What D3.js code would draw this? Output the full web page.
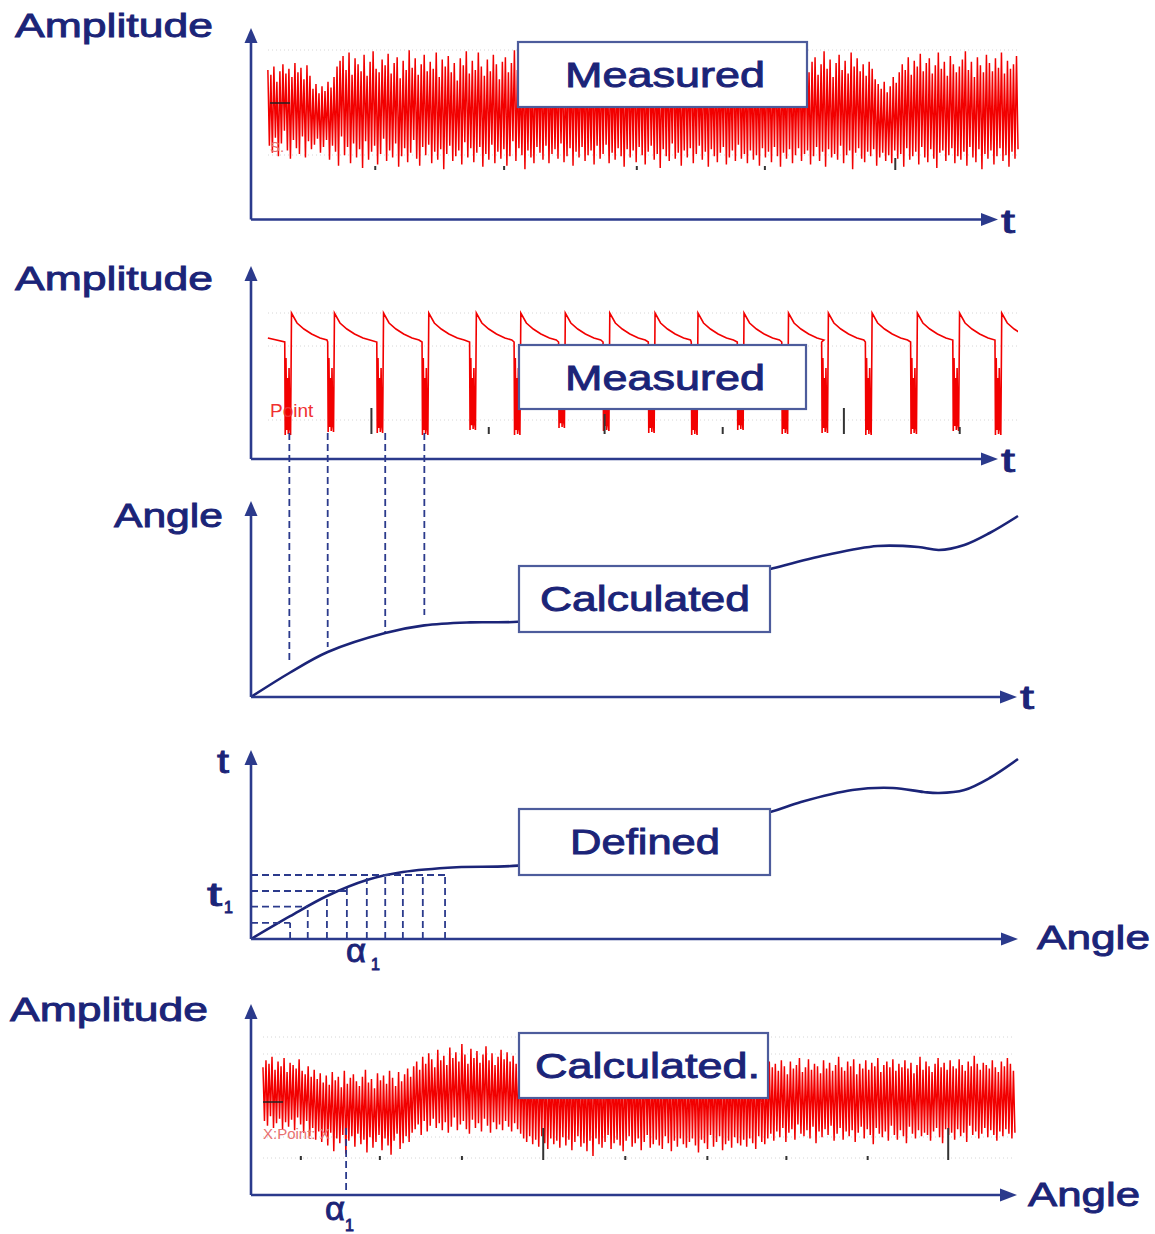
<!DOCTYPE html>
<html><head><meta charset="utf-8">
<script src="https://cdn.jsdelivr.net/npm/d3@7"></script>
<style>body{margin:0;background:#fff}svg{display:block}text{font-family:"Liberation Sans",Arial,sans-serif}</style>
</head><body><svg id="c" width="1155" height="1234"></svg>
<script>
// ---------- DATA ----------
const yLabels = ["Amplitude", "Amplitude", "Angle", "t", "Amplitude"];
const xLabels = ["t", "t", "t", "Angle", "Angle"];
const boxLabels = ["Measured", "Measured", "Calculated", "Defined", "Calculated."];

// Panel 1: measured vibration signal (time domain), samples
const measuredNoise = [
 30,-35,26,-41,33,-28,20,-44,29,-33,35,-22,27,-39,31,-46,24,-30,36,-37,
 28,-42,32,-27,22,-45,34,-31,25,-38,14,-34,18,-29,10,-41,16,-36,12,-30,
 20,-47,15,-35,24,-40,33,-52,38,-27,42,-43,30,-36,45,-50,26,-33,40,-45,
 35,-38,29,-54,43,-31,25,-47,37,-40,46,-35,31,-51,28,-42,39,-29,34,-48,
 44,-39,27,-45,36,-33,41,-53,23,-44,38,-37,30,-49,47,-41,32,-30,40,-46,
 26,-52,35,-36,43,-43,29,-34,37,-50,31,-40,45,-47,24,-38,39,-55,33,-42,
 42,-35,28,-48,36,-44,21,-39,40,-51,34,-32,46,-45,27,-37,38,-49,30,-41,
 45,-36,33,-53,25,-42,39,-47,29,-34,43,-50,35,-40,22,-46,37,-38,41,-52,
 28,-44,36,-31,47,-48,30,-37,24,-43,40,-55,33,-39,42,-45,27,-50,35,-36,
 32,-41,38,-47,26,-35,41,-50,30,-42,36,-38,28,-46,40,-33,34,-49,25,-44,
 39,-37,31,-52,43,-40,27,-45,35,-36,30,-48,37,-43,24,-39,41,-51,33,-35,
 28,-46,36,-42,40,-34,25,-50,38,-41,32,-47,29,-37,42,-44,35,-53,26,-38,
 37,-45,30,-39,41,-49,27,-36,34,-43,39,-51,31,-40,44,-35,28,-47,36,-42,
 33,-54,25,-38,40,-44,36,-48,29,-33,42,-46,30,-41,35,-52,27,-39,38,-45,
 31,-37,43,-50,28,-42,36,-35,24,-47,39,-40,32,-53,41,-38,26,-44,37,-49,
 34,-41,29,-36,40,-51,33,-45,27,-39,44,-48,30,-34,38,-46,25,-42,35,-50,
 42,-39,28,-47,36,-43,31,-52,39,-37,26,-45,41,-40,33,-49,29,-36,37,-44,
 30,-53,38,-41,27,-46,43,-38,32,-50,35,-43,29,-37,40,-48,34,-42,45,-39,
 28,-51,37,-44,41,-36,26,-48,35,-40,46,-53,31,-38,39,-45,24,-42,36,-47,
 43,-35,30,-50,38,-43,27,-39,45,-55,33,-41,40,-37,29,-46,35,-49,25,-40,
 37,-44,31,-38,22,-52,18,-45,14,-41,20,-48,11,-43,16,-50,24,-39,19,-46,
 28,-42,35,-53,30,-37,41,-47,26,-44,38,-40,33,-51,44,-36,29,-45,36,-49,
 40,-38,27,-46,34,-54,45,-41,31,-39,37,-48,25,-43,42,-37,35,-50,28,-44,
 33,-47,39,-40,46,-52,30,-36,37,-45,24,-49,41,-38,34,-55,28,-42,43,-46,
 36,-39,29,-51,40,-44,32,-37,45,-48,27,-43,38,-53,31,-40,35,-46,42,-38
];
// Panel 5: order-domain (resampled) signal, samples
const calculatedNoise = [
 28,-18,34,-22,31,-14,37,-24,26,-20,33,-16,29,-25,36,-19,24,-23,32,-17,
 30,-26,27,-15,35,-21,25,-28,22,-18,29,-31,20,-24,26,-34,18,-27,23,-36,
 15,-30,21,-39,13,-28,24,-44,17,-33,20,-37,11,-30,25,-46,14,-35,19,-31,
 22,-40,16,-29,12,-38,20,-34,26,-45,15,-32,18,-41,10,-36,23,-30,17,-43,
 21,-33,14,-39,25,-47,19,-35,12,-29,24,-42,16,-37,22,-31,27,-36,20,-28,
 29,-25,33,-21,26,-30,37,-18,31,-27,40,-22,35,-16,28,-24,43,-20,34,-26,
 38,-19,30,-28,45,-23,36,-15,41,-26,33,-21,48,-18,39,-25,31,-29,44,-17,
 36,-24,42,-20,32,-27,39,-16,46,-22,34,-28,40,-19,30,-25,37,-21,43,-26,
 35,-18,41,-23,33,-27,38,-20,31,-25,36,-29,30,-33,34,-36,28,-31,32,-38,
 29,-34,33,-40,27,-31,35,-37,30,-42,26,-33,32,-38,28,-35,34,-41,25,-32,
 31,-39,27,-34,33,-43,29,-36,35,-31,24,-40,30,-37,28,-44,32,-35,26,-48,
 34,-33,28,-38,31,-41,25,-36,33,-30,29,-42,35,-37,27,-34,30,-39,32,-44,
 26,-35,33,-31,29,-40,34,-37,24,-33,31,-43,28,-36,35,-30,27,-41,30,-38,
 33,-34,25,-39,31,-42,28,-31,34,-37,26,-44,32,-35,29,-40,27,-33,35,-38,
 30,-41,24,-36,32,-33,28,-39,35,-45,26,-34,31,-37,29,-42,33,-30,25,-40,
 34,-36,27,-31,30,-43,25,-38,33,-35,29,-41,35,-32,26,-37,31,-39,28,-34,
 32,-40,26,-33,34,-37,29,-42,27,-31,35,-36,30,-38,24,-33,33,-29,28,-35,
 31,-27,25,-32,34,-24,29,-36,22,-28,33,-25,27,-34,30,-21,36,-29,24,-31,
 28,-26,35,-33,26,-23,31,-37,29,-27,23,-32,34,-25,27,-30,32,-22,25,-35,
 30,-29,37,-24,28,-34,25,-27,33,-31,29,-26,35,-36,22,-28,31,-23,27,-33,
 34,-25,26,-30,32,-38,29,-24,36,-29,24,-32,30,-27,33,-35,28,-22,35,-30,
 25,-34,31,-26,28,-31,34,-37,27,-23,32,-29,23,-33,30,-26,37,-31,26,-28,
 33,-30,29,-35,24,-27,31,-24,36,-32,28,-37,32,-25,26,-30,34,-28,29,-34,
 27,-25,35,-31,30,-28,25,-36,33,-22,29,-30,38,-27,31,-33,26,-29,32,-24,
 30,-32,27,-26,34,-30,28,-35,24,-27,33,-31,29,-25,36,-29,31,-33,25,-28
];

// Panel 2: measured pulse signal - pulse times and depths
const spikeTimes = [0.44,1.00,1.64,2.23,2.85,3.43,4.01,4.59,5.18,5.74,6.34,6.92,7.44,8.01,8.60,9.15,9.70];
const spikeMins  = [-97,-94,-95,-97,-92,-97,-90,-93,-95,-97,-92,-96,-95,-97,-96,-93,-97];
// shape of one pulse: time offset, amplitude
const pulseShapeDt = [0, 0.006, 0.016, 0.026, 0.036, 0.046, 0.056, 0.066, 0.076, 0.088, 0.16, 0.25, 0.35, 0.46, 0.55];
const pulseShapeV  = [-4, -95,  -20,   -90,   -40,   -94,   -30,   -88,   -95,   25,    15,   9,    4,    0,    -2];

// Panel 3: calculated angle vs time
const angleT = [0, 0.50, 1.00, 1.75, 2.26, 2.86, 3.48, 4.29, 5.20, 5.98, 6.77, 7.50, 8.17, 8.70, 8.97, 9.30, 9.63, 10.0];
const angleV = [0, 1.20, 2.25, 3.20, 3.58, 3.73, 3.76, 4.15, 4.85, 5.60, 6.40, 7.10, 7.55, 7.50, 7.35, 7.60, 8.20, 9.05];
const linkTimes  = [0.50, 1.00, 1.75, 2.26];
const linkAngles = [1.70, 2.50, 3.25, 4.10];

// Panel 4: defined time vs angle
const definedA = [0, 0.51, 0.99, 1.51, 1.98, 2.68, 3.48, 4.55, 5.59, 6.77, 7.17, 7.84, 8.37, 8.77, 8.97, 9.30, 9.63, 10.0];
const definedT = [0, 1.14, 2.15, 2.95, 3.35, 3.59, 3.67, 4.30, 5.30, 6.35, 6.85, 7.45, 7.55, 7.35, 7.30, 7.45, 8.05, 9.00];
const gridHT   = [0.81, 1.62, 2.40, 3.20];
const gridHEnd = [0.51, 0.74, 1.25, 2.53];
const gridVA   = [0.51, 0.74, 0.99, 1.25, 1.51, 1.75, 1.98, 2.24, 2.53];
const gridVTop = [0.81, 1.62, 2.20, 2.60, 3.05, 3.20, 3.20, 3.20, 3.20];
const alpha1 = 1.24;

// small instrument marks
const marks1 = [1.62, 3.30, 5.03, 6.70, 8.40];
const marks1Len = [4, 4, 4, 4, 12];
const marks2 = [1.57, 3.10, 4.61, 6.15, 7.73, 9.24];
const marks2Len = [26, 7, 20, 7, 26, 7];
const marks5 = [0.65, 1.68, 2.75, 3.81, 4.88, 5.95, 6.98, 8.04, 9.09];
const marks5Len = [4, 4, 4, 32, 4, 4, 4, 4, 32];

// ---------- DRAW ----------
const svg = d3.select("#c");
const NAVY = "#1b2478", AXIS = "#2b3a8c", BOXS = "#4d5c9c", RED = "#f20000";
const x = d3.scaleLinear([0, 10], [251, 1018]);

const panels = [
  {oy: 219.5, top: 28,   tip: 998,  ylab: [15, 37, 198],   xlab: [1001, 233, 14]},
  {oy: 459,   top: 266,  tip: 998,  ylab: [15, 290, 198],  xlab: [1001, 472, 14]},
  {oy: 697,   top: 501,  tip: 1017, ylab: [114, 527, 109], xlab: [1020, 709, 14]},
  {oy: 939,   top: 750,  tip: 1018, ylab: [217, 773, 12],  xlab: [1037, 949, 113]},
  {oy: 1195,  top: 1004, tip: 1017, ylab: [10, 1021, 198], xlab: [1028, 1206, 112]}
];
const boxes = [[518,42,289,65],[519,345,287,64],[519,566,251,66],[519,809,251,66],[519,1033,249,65]];
const boxText = [[565, 87, 200], [565, 390, 200], [540, 611, 210], [570, 854, 150], [535, 1078, 225]];

const y1 = d3.scaleLinear([-60, 60], [175, 35]);
const y2 = d3.scaleLinear([-100, 30], [438, 308]);
const y3 = d3.scaleLinear([0, 10], [697, 497]);
const y4 = d3.scaleLinear([0, 10], [939, 739]);
const y5 = d3.scaleLinear([-60, 60], [1170, 1030]);

function label(xp, yp, str, size, width) {
  const t = svg.append("text").attr("x", xp).attr("y", yp).attr("font-size", size)
    .attr("fill", NAVY).attr("stroke", NAVY).attr("stroke-width", 0.9).attr("paint-order", "stroke").text(str);
  if (width) t.attr("textLength", width).attr("lengthAdjust", "spacingAndGlyphs");
  return t;
}

// faint background grid of the instrument screenshots
const faint = [[268,1018,50],[268,1018,155],[268,1018,313],[268,1018,346],[268,1018,420],[263,1015,1037],[263,1015,1054],[263,1015,1137],[263,1015,1158]];
svg.append("g").selectAll("line").data(faint).join("line")
  .attr("x1", d => d[0]).attr("x2", d => d[1]).attr("y1", d => d[2]).attr("y2", d => d[2])
  .attr("stroke", "#d6d6d6").attr("stroke-width", 1).attr("stroke-dasharray", "1,3");

svg.append("defs").append("clipPath").attr("id", "clipx")
  .append("rect").attr("x", 251).attr("y", 0).attr("width", 767).attr("height", 1234);

// Panel 1 noise
const i1 = d3.scaleLinear([0, measuredNoise.length - 1], [0.22, 10]);
svg.append("path").datum(measuredNoise)
  .attr("d", d3.line().x((d, i) => x(i1(i))).y(d => y1(d)))
  .attr("fill", "none").attr("stroke", RED).attr("stroke-width", 1.5);

// Panel 5 noise
const i5 = d3.scaleLinear([0, calculatedNoise.length - 1], [0.156, 9.96]);
svg.append("path").datum(calculatedNoise)
  .attr("d", d3.line().x((d, i) => x(i5(i))).y(d => y5(d)))
  .attr("fill", "none").attr("stroke", RED).attr("stroke-width", 1.5);

// Panel 2 pulse train
const pulse = [[0.22, 0]];
spikeTimes.forEach((t0, k) => {
  pulseShapeDt.forEach((dt, j) => {
    const v = pulseShapeV[j];
    pulse.push([t0 + dt, v < -50 ? v * (-spikeMins[k] / 95) : v]);
  });
});
svg.append("path").datum(pulse).attr("clip-path", "url(#clipx)")
  .attr("d", d3.line().x(d => x(d[0])).y(d => y2(d[1])))
  .attr("fill", "none").attr("stroke", RED).attr("stroke-width", 1.6);

// marks
const markG = svg.append("g").attr("stroke", "#333").attr("stroke-width", 2);
marks1.forEach((m, i) => markG.append("line").attr("x1", x(m)).attr("x2", x(m)).attr("y1", 170 - marks1Len[i]).attr("y2", 170));
marks2.forEach((m, i) => markG.append("line").attr("x1", x(m)).attr("x2", x(m)).attr("y1", 434 - marks2Len[i]).attr("y2", 434));
marks5.forEach((m, i) => markG.append("line").attr("x1", x(m)).attr("x2", x(m)).attr("y1", 1160 - marks5Len[i]).attr("y2", 1160));
svg.append("line").attr("x1", 270).attr("x2", 290).attr("y1", 103).attr("y2", 103).attr("stroke", "#222").attr("stroke-width", 1.5);
svg.append("line").attr("x1", 263).attr("x2", 283).attr("y1", 1102).attr("y2", 1102).attr("stroke", "#222").attr("stroke-width", 1.5);
svg.append("text").attr("x", 270).attr("y", 152).attr("font-size", 15).attr("fill", "#e87070").text("S.");
svg.append("text").attr("x", 270).attr("y", 417).attr("font-size", 19).attr("fill", "#f03030").text("Point");
svg.append("text").attr("x", 263).attr("y", 1139).attr("font-size", 15).attr("fill", "#e87070").text("X:Point: X");

// Panel 3 curve
const curve3 = angleT.map((t, i) => [t, angleV[i]]);
svg.append("path").datum(curve3)
  .attr("d", d3.line().curve(d3.curveCatmullRom.alpha(0.5)).x(d => x(d[0])).y(d => y3(d[1])))
  .attr("fill", "none").attr("stroke", NAVY).attr("stroke-width", 2.6);

// Panel 4 curve
const curve4 = definedA.map((a, i) => [a, definedT[i]]);
svg.append("path").datum(curve4)
  .attr("d", d3.line().curve(d3.curveCatmullRom.alpha(0.5)).x(d => x(d[0])).y(d => y4(d[1])))
  .attr("fill", "none").attr("stroke", NAVY).attr("stroke-width", 2.6);

// dashed links & grid
const dash = svg.append("g").attr("stroke", AXIS).attr("stroke-width", 1.8).attr("stroke-dasharray", "7,4").attr("fill", "none");
linkTimes.forEach((t, i) => dash.append("line").attr("x1", x(t)).attr("x2", x(t)).attr("y1", y2(-95)).attr("y2", y3(linkAngles[i])));
gridHT.forEach((t, i) => dash.append("line").attr("x1", x(0)).attr("x2", x(gridHEnd[i])).attr("y1", y4(t)).attr("y2", y4(t)));
gridVA.forEach((a, i) => dash.append("line").attr("x1", x(a)).attr("x2", x(a)).attr("y1", y4(0)).attr("y2", y4(gridVTop[i])));
dash.append("line").attr("x1", x(alpha1)).attr("x2", x(alpha1)).attr("y1", 1128).attr("y2", 1195);

// axes
panels.forEach((p, i) => {
  const g = svg.append("g");
  g.append("line").attr("x1", 251).attr("x2", 251).attr("y1", p.oy).attr("y2", p.top + 10).attr("stroke", AXIS).attr("stroke-width", 2.6);
  g.append("line").attr("x1", 251).attr("x2", p.tip - 10).attr("y1", p.oy).attr("y2", p.oy).attr("stroke", AXIS).attr("stroke-width", 2.6);
  g.append("path").attr("d", `M251,${p.top}L244.5,${p.top + 15}L257.5,${p.top + 15}Z`).attr("fill", AXIS);
  g.append("path").attr("d", `M${p.tip},${p.oy}L${p.tip - 17},${p.oy - 6.5}L${p.tip - 17},${p.oy + 6.5}Z`).attr("fill", AXIS);
  label(p.ylab[0], p.ylab[1], yLabels[i], 34, p.ylab[2]);
  label(p.xlab[0], p.xlab[1], xLabels[i], 34, p.xlab[2]);
});

// subscripted labels
function sub(xp, yp, main, mw, s, sx, sy) {
  label(xp, yp, main, 34, mw);
  label(sx, sy, s, 16);
}
sub(207, 906, "t", 15, "1", 224, 913);
sub(346, 962, "α", 20, "1", 371, 970);
sub(325, 1220, "α", 20, "1", 345, 1231);

// boxes
boxes.forEach((b, i) => {
  svg.append("rect").attr("x", b[0]).attr("y", b[1]).attr("width", b[2]).attr("height", b[3])
    .attr("fill", "#fff").attr("stroke", BOXS).attr("stroke-width", 2.2);
  label(boxText[i][0], boxText[i][1], boxLabels[i], 35, boxText[i][2]);
});
</script></body></html>
